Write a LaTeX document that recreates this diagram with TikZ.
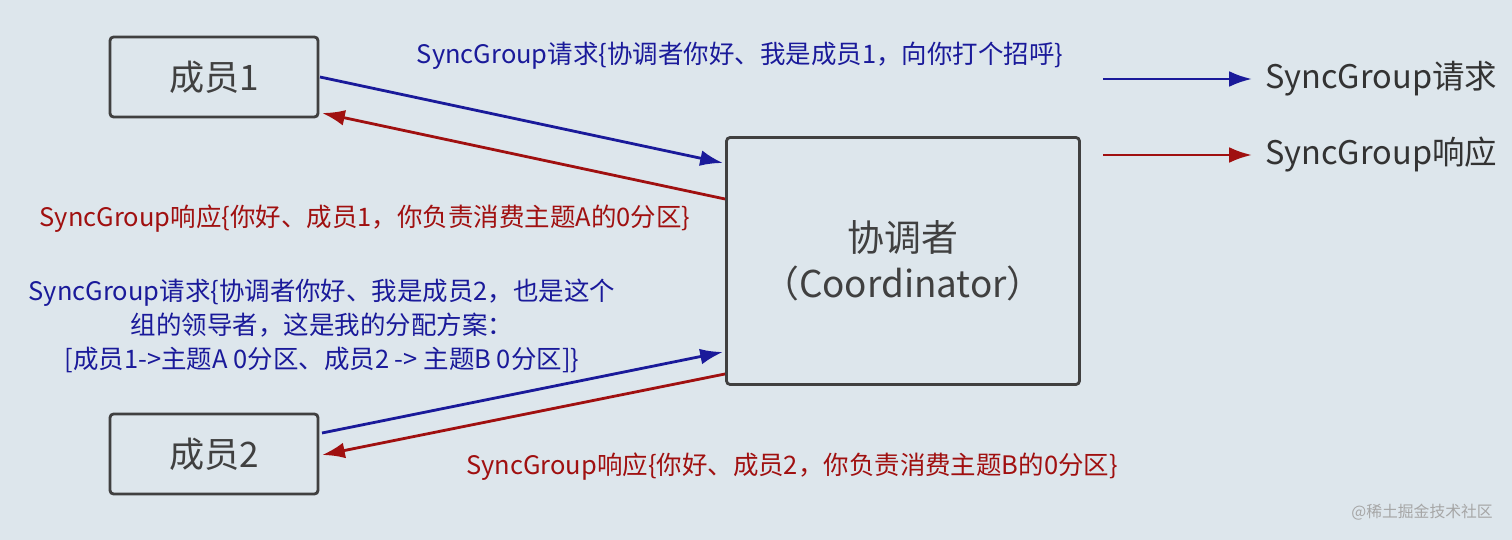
\documentclass[tikz,border=0pt]{standalone}
\usepackage{fontspec}
\setmainfont{Noto Sans CJK SC}
\usetikzlibrary{positioning,arrows.meta}
\definecolor{bg}{HTML}{DDE6EC}
\definecolor{reqblue}{HTML}{1A1A9A}
\definecolor{resred}{HTML}{A01010}

\begin{document}
\begin{tikzpicture}[x=0.02cm, y=-0.02cm, line width=1.6pt, >={Latex[length=13pt,width=9pt]}]
        \fill[bg] (0,0) rectangle (1512,540);
        \useasboundingbox (0,0) rectangle (1512,540);

        % members and coordinator
        \node (m1) at (214,77) [shape=rectangle, rounded corners=2pt, draw=black!75, fill=bg, text=black!75, minimum width=4.16cm, minimum height=1.6cm, font=\fontsize{20}{22}\selectfont] {成员1};
        \node (m2) at (214,454) [shape=rectangle, rounded corners=2pt, draw=black!75, fill=bg, text=black!75, minimum width=4.16cm, minimum height=1.6cm, font=\fontsize{20}{22}\selectfont] {成员2};
        \node (co) at (903,261) [shape=rectangle, rounded corners=2pt, draw=black!75, fill=bg, text=black!75, minimum width=7.06cm, minimum height=4.94cm, align=center, font=\fontsize{21}{26}\selectfont] {协调者\\（Coordinator）};

        \coordinate (a1) at (320,77);  \coordinate (a2) at (723,163);
        \coordinate (b1) at (725,199); \coordinate (b2) at (322,113);
        \coordinate (c1) at (322,433); \coordinate (c2) at (723,352);
        \coordinate (d1) at (725,374); \coordinate (d2) at (322,455);
        \draw[->, reqblue] (a1) -- (a2);
        \draw[->, resred] (b1) -- (b2);
        \draw[->, reqblue] (c1) -- (c2);
        \draw[->, resred] (d1) -- (d2);

        % labels
        \node (l1) at (740,56) [text=reqblue, font=\fontsize{14.5}{16}\selectfont] {SyncGroup请求\{协调者你好、我是成员1，向你打个招呼\}};
        \node (l2) at (365,219) [text=resred, font=\fontsize{14.5}{16}\selectfont] {SyncGroup响应\{你好、成员1，你负责消费主题A的0分区\}};
        \node (l3) at (322,326) [text=reqblue, align=center, font=\fontsize{14.5}{19.3}\selectfont] {SyncGroup请求\{协调者你好、我是成员2，也是这个\\组的领导者，这是我的分配方案：\\{[}成员1->主题A 0分区、成员2 -> 主题B 0分区{]}\}};
        \node (l4) at (792,467) [text=resred, font=\fontsize{14.5}{16}\selectfont] {SyncGroup响应\{你好、成员2，你负责消费主题B的0分区\}};

        % legend
        \coordinate (k1) at (1103,79);  \coordinate (k2) at (1252,79);
        \coordinate (k3) at (1103,155); \coordinate (k4) at (1252,155);
        \draw[->, reqblue] (k1) -- (k2);
        \draw[->, resred] (k3) -- (k4);
        \node (t1) at (1258,79) [anchor=west, text=black!80, font=\fontsize{18.5}{20}\selectfont] {SyncGroup请求};
        \node (t2) at (1258,155) [anchor=west, text=black!80, font=\fontsize{18.5}{20}\selectfont] {SyncGroup响应};

        \node (wm) at (1500,512) [anchor=east, text=black!35, font=\fontsize{9}{10}\selectfont] {@稀土掘金技术社区};
    \end{tikzpicture}
\end{document}
